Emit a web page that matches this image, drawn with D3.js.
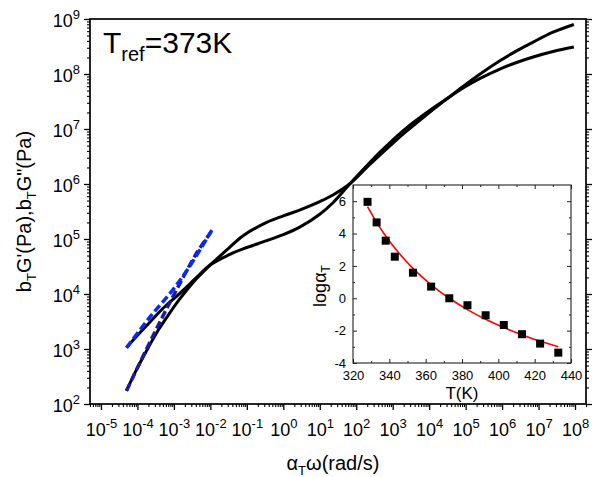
<!DOCTYPE html>
<html>
<head>
<meta charset="utf-8">
<script src="https://cdn.jsdelivr.net/npm/d3@7"></script>
<style>
  body { margin: 0; background: #fff; }
  svg { display: block; }
  text { font-family: "Liberation Sans", Arial, sans-serif; fill: #000; }
</style>
</head>
<body>
<svg id="chart" width="595" height="477"></svg>
<script>
// Master curves at Tref = 373 K: reduced angular frequency (rad/s)
const omega = [5.0e-5, 9.5e-5, 2.0e-4, 3.7e-4, 6.3e-4, 1.2e-3, 2.24e-3, 4.2e-3, 1.0e-2,
  3.16e-2, 7.9e-2, 0.35, 1, 2.9, 10, 23, 68, 200, 450, 1000, 2400, 1.05e4, 3.2e4,
  8.7e4, 2.5e5, 8.7e5, 2.5e6, 7.1e6, 2.5e7, 9.3e7];
// reduced storage modulus b_T G' (Pa)
const storageG = [174, 427, 1070, 2190, 3720, 6920, 1.17e4, 1.91e4, 3.39e4,
  6.76e4, 1.15e5, 2.00e5, 2.63e5, 3.39e5, 4.79e5, 6.31e5, 1.02e6, 2.04e6, 3.39e6,
  5.50e6, 9.12e6, 2.04e7, 3.63e7, 6.03e7, 1.00e8, 1.74e8, 2.63e8, 3.80e8, 5.75e8, 7.94e8];
// reduced loss modulus b_T G'' (Pa)
const lossG = [1070, 1700, 2880, 4470, 6310, 9120, 1.35e4, 2.00e4, 3.39e4,
  5.13e4, 6.61e4, 9.33e4, 1.20e5, 1.66e5, 2.82e5, 4.57e5, 1.02e6, 2.19e6, 3.80e6,
  6.31e6, 1.05e7, 2.19e7, 3.63e7, 5.62e7, 8.32e7, 1.23e8, 1.62e8, 2.04e8, 2.57e8, 3.09e8];

// terminal-zone dashed lines
const termStorageW = [5.0e-5, 1.58e-4, 5.0e-4, 1.48e-3, 4.17e-3, 1.05e-2];
const termStorageG = [174, 851, 3980, 1.58e4, 5.50e4, 1.35e5];
const termLossW = [5.0e-5, 2.19e-4, 8.7e-4, 2.51e-3, 1.10e-2];
const termLossG = [1050, 3800, 1.12e4, 2.95e4, 1.45e5];

// shift factors
const shiftT = [328, 333, 338, 343, 353, 363, 373, 383, 393, 403, 413, 423, 433];
const shiftLogA = [5.96, 4.69, 3.56, 2.57, 1.58, 0.72, 0, -0.43, -1.05, -1.65, -2.22, -2.80, -3.36];
// fitted shift-factor curve
const fitT = [328, 333, 338, 343, 348, 353, 358, 363, 368, 373, 383, 393, 403, 413, 423, 433];
const fitLogA = [5.66, 4.69, 3.85, 3.10, 2.44, 1.85, 1.32, 0.83, 0.40, 0, -0.70, -1.30, -1.81, -2.25, -2.65, -2.99];

// axis tick values
const xDecades = [-5, -4, -3, -2, -1, 0, 1, 2, 3, 4, 5, 6, 7, 8];
const yDecades = [2, 3, 4, 5, 6, 7, 8, 9];
const insetXTicks = [320, 340, 360, 380, 400, 420, 440];
const insetYTicks = [-4, -2, 0, 2, 4, 6];

const svg = d3.select("#chart");
const M = { left: 90, right: 586, top: 19, bottom: 404 };
const x = d3.scaleLog().domain([5e-6, 2e8]).range([M.left, M.right]);
const y = d3.scaleLog().domain([1e2, 1e9]).range([M.bottom, M.top]);

function minorsFor(scale, decades) {
  const [lo, hi] = scale.domain();
  const out = [];
  for (let e = decades[0] - 1; e <= decades[decades.length - 1]; e++) {
    for (let m = 2; m <= 9; m++) {
      const v = m * Math.pow(10, e);
      if (v >= lo * 0.999 && v <= hi * 1.001) out.push(v);
    }
  }
  return out;
}
const xMajor = xDecades.map(e => Math.pow(10, e));
const yMajor = yDecades.map(e => Math.pow(10, e));
const xMinor = minorsFor(x, xDecades);
const yMinor = minorsFor(y, yDecades);

function powerLabel(sel) {
  sel.each(function(d) {
    const t = d3.select(this);
    const e = Math.round(Math.log10(d));
    t.text(null);
    t.append("tspan").text("10");
    t.append("tspan").attr("dy", -8).attr("font-size", 13).text(String(e));
  });
}

function styleAxis(g, width) {
  g.select(".domain").remove();
  g.selectAll(".tick line").attr("stroke", "#000").attr("stroke-width", width);
}

// main frame ticks
const gx = svg.append("g").attr("transform", `translate(0,${M.bottom})`);
gx.call(d3.axisBottom(x).tickValues(xMinor).tickSize(3).tickFormat(""));
styleAxis(gx, 1.1);
const gxM = svg.append("g").attr("transform", `translate(0,${M.bottom})`);
gxM.call(d3.axisBottom(x).tickValues(xMajor).tickSize(6).tickPadding(12));
styleAxis(gxM, 1.3);
gxM.selectAll(".tick text").attr("font-size", 18).attr("font-family", "Liberation Sans, Arial, sans-serif")
  .attr("y", 32).attr("dy", 0).call(powerLabel);

const gy = svg.append("g").attr("transform", `translate(${M.left},0)`);
gy.call(d3.axisLeft(y).tickValues(yMinor).tickSize(3).tickFormat(""));
styleAxis(gy, 1.1);
const gyM = svg.append("g").attr("transform", `translate(${M.left},0)`);
gyM.call(d3.axisLeft(y).tickValues(yMajor).tickSize(6));
styleAxis(gyM, 1.3);
gyM.selectAll(".tick text").attr("font-size", 18).attr("font-family", "Liberation Sans, Arial, sans-serif")
  .attr("x", -10).attr("dy", 0).attr("y", 7).call(powerLabel);

const gr = svg.append("g").attr("transform", `translate(${M.right},0)`);
gr.call(d3.axisRight(y).tickValues(yMinor).tickSize(3).tickFormat(""));
styleAxis(gr, 1.1);
const grM = svg.append("g").attr("transform", `translate(${M.right},0)`);
grM.call(d3.axisRight(y).tickValues(yMajor).tickSize(6).tickFormat(""));
styleAxis(grM, 1.3);

svg.append("rect")
  .attr("x", M.left).attr("y", M.top)
  .attr("width", M.right - M.left).attr("height", M.bottom - M.top)
  .attr("fill", "none").attr("stroke", "#000").attr("stroke-width", 1.7);

// curves
const line = d3.line().x(d => x(d[0])).y(d => y(d[1])).curve(d3.curveCatmullRom.alpha(0.5));
const plotG = svg.append("g");
plotG.append("path").datum(omega.map((w, i) => [w, storageG[i]]))
  .attr("d", line).attr("fill", "none").attr("stroke", "#000").attr("stroke-width", 3);
plotG.append("path").datum(omega.map((w, i) => [w, lossG[i]]))
  .attr("d", line).attr("fill", "none").attr("stroke", "#000").attr("stroke-width", 3);
plotG.append("path").datum(termStorageW.map((w, i) => [w, termStorageG[i]]))
  .attr("d", line).attr("fill", "none").attr("stroke", "#1a1aa6").attr("stroke-width", 3.5)
  .attr("stroke-dasharray", "8,3.5");
plotG.append("path").datum(termLossW.map((w, i) => [w, termLossG[i]]))
  .attr("d", line).attr("fill", "none").attr("stroke", "#0a2cf0").attr("stroke-width", 3.5)
  .attr("stroke-dasharray", "8,3.5");

// axis titles
const yTitle = svg.append("text")
  .attr("transform", `translate(31,${(M.top + M.bottom) / 2}) rotate(-90)`)
  .attr("text-anchor", "middle").attr("font-size", 20);
yTitle.append("tspan").text("b");
yTitle.append("tspan").attr("font-size", 13).attr("dy", 5).text("T");
yTitle.append("tspan").attr("dy", -5).text("G'(Pa),b");
yTitle.append("tspan").attr("font-size", 13).attr("dy", 5).text("T");
yTitle.append("tspan").attr("dy", -5).text("G\"(Pa)");

const xTitle = svg.append("text")
  .attr("x", 333).attr("y", 470).attr("text-anchor", "middle").attr("font-size", 20);
xTitle.append("tspan").text("α");
xTitle.append("tspan").attr("font-size", 13).attr("dy", 5).text("T");
xTitle.append("tspan").attr("dy", -5).text("ω(rad/s)");

const ref = svg.append("text").attr("x", 103).attr("y", 53).attr("font-size", 30);
ref.append("tspan").text("T");
ref.append("tspan").attr("font-size", 20).attr("dy", 8).text("ref");
ref.append("tspan").attr("dy", -8).text("=373K");

// inset: shift factor versus temperature
const I = { left: 353, right: 571, top: 185, bottom: 363 };
const ix = d3.scaleLinear().domain([320, 440]).range([I.left, I.right]);
const iy = d3.scaleLinear().domain([-4, 7]).range([I.bottom, I.top]);
const inset = svg.append("g");
inset.append("rect")
  .attr("x", I.left).attr("y", I.top)
  .attr("width", I.right - I.left).attr("height", I.bottom - I.top)
  .attr("fill", "#fff");

const ixMinor = d3.range(330, 440, 20);
const iyMinor = d3.range(-3, 7, 2);
function insetAxis(axis, tr, vals, size, fmt) {
  const g = inset.append("g").attr("transform", tr);
  g.call(axis.tickValues(vals).tickSizeInner(size).tickSizeOuter(0).tickFormat(fmt));
  g.select(".domain").remove();
  g.selectAll(".tick line").attr("stroke", "#222").attr("stroke-width", 1);
  return g;
}
const none = () => "";
const ibx = insetAxis(d3.axisBottom(ix), `translate(0,${I.bottom})`, insetXTicks, -4, d => String(d));
ibx.selectAll(".tick text").attr("font-size", 13).attr("y", 8).attr("dy", "0.71em")
  .attr("font-family", "Liberation Sans, Arial, sans-serif");
insetAxis(d3.axisBottom(ix), `translate(0,${I.bottom})`, ixMinor, -2, none);
insetAxis(d3.axisTop(ix), `translate(0,${I.top})`, insetXTicks, -4, none);
insetAxis(d3.axisTop(ix), `translate(0,${I.top})`, ixMinor, -2, none);
const ily = insetAxis(d3.axisLeft(iy), `translate(${I.left},0)`, insetYTicks, -4, d => String(d));
ily.selectAll(".tick text").attr("font-size", 13).attr("x", -7)
  .attr("font-family", "Liberation Sans, Arial, sans-serif");
insetAxis(d3.axisLeft(iy), `translate(${I.left},0)`, iyMinor, -2, none);
insetAxis(d3.axisRight(iy), `translate(${I.right},0)`, insetYTicks, -4, none);
insetAxis(d3.axisRight(iy), `translate(${I.right},0)`, iyMinor, -2, none);

inset.append("rect")
  .attr("x", I.left).attr("y", I.top)
  .attr("width", I.right - I.left).attr("height", I.bottom - I.top)
  .attr("fill", "none").attr("stroke", "#222").attr("stroke-width", 1.1);

inset.append("path")
  .datum(fitT.map((t, i) => [t, fitLogA[i]]))
  .attr("d", d3.line().x(d => ix(d[0])).y(d => iy(d[1])).curve(d3.curveMonotoneX))
  .attr("fill", "none").attr("stroke", "#ff0000").attr("stroke-width", 1.6);

const sq = 8;
inset.selectAll("rect.pt").data(shiftT.map((t, i) => [t, shiftLogA[i]])).join("rect")
  .attr("class", "pt")
  .attr("x", d => ix(d[0]) - sq / 2).attr("y", d => iy(d[1]) - sq / 2)
  .attr("width", sq).attr("height", sq).attr("fill", "#000");

inset.append("text").attr("x", (I.left + I.right) / 2).attr("y", 399)
  .attr("text-anchor", "middle").attr("font-size", 17).text("T(K)");
const iyTitle = inset.append("text")
  .attr("transform", `translate(326,${(I.top + I.bottom) / 2 + 12}) rotate(-90)`)
  .attr("text-anchor", "middle").attr("font-size", 18);
iyTitle.append("tspan").text("logα");
iyTitle.append("tspan").attr("font-size", 12).attr("dy", 4).text("T");
</script>
</body>
</html>
